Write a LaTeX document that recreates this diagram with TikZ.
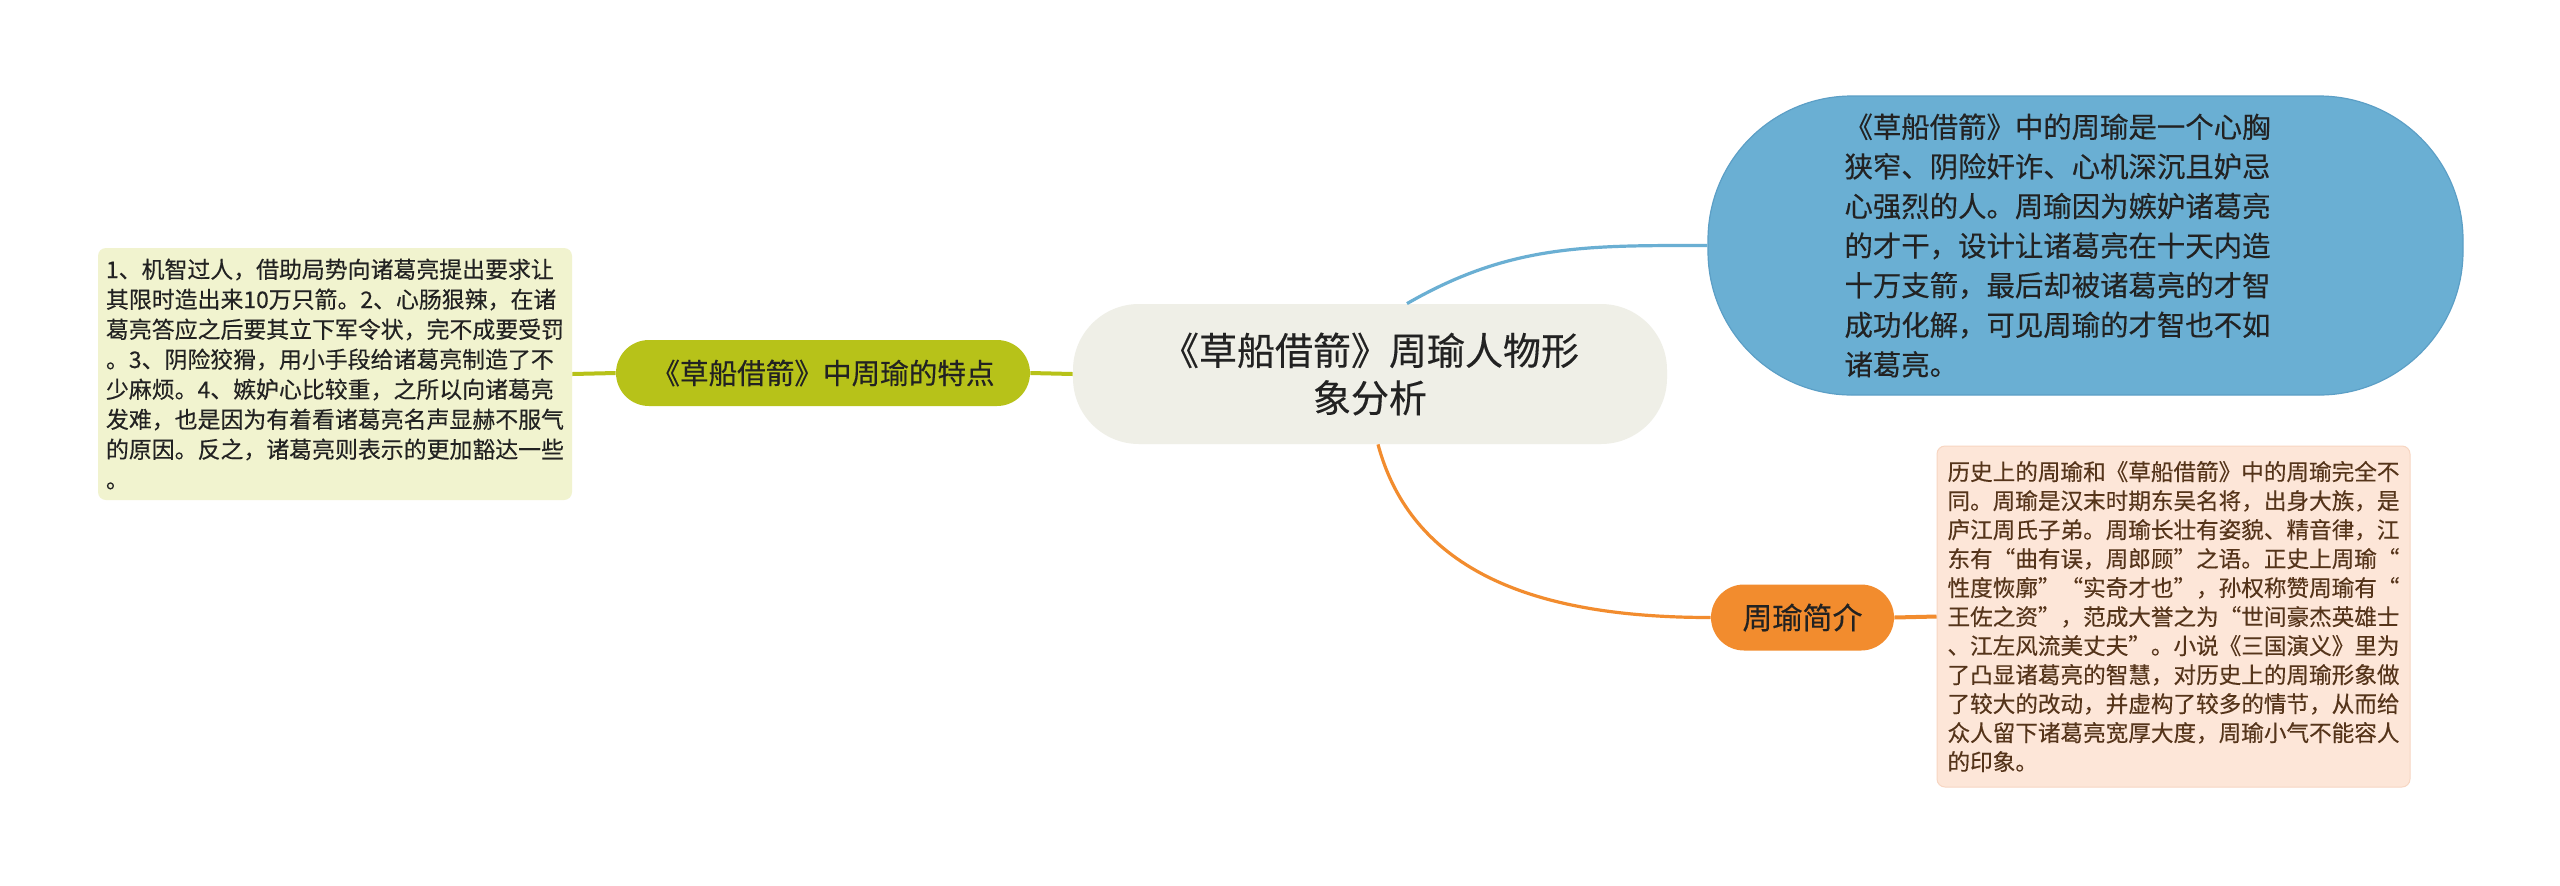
\documentclass[tikz,border=0pt]{standalone}
\usepackage{fontspec}
\setmainfont{Noto Sans CJK SC}[UprightFeatures={FakeBold=0.3}]
\definecolor{rootfill}{HTML}{EFEFE7}
\definecolor{olive}{HTML}{B7C219}
\definecolor{olivenote}{HTML}{F1F3CF}
\definecolor{bluebub}{HTML}{6AAFD3}
\definecolor{blueedge}{HTML}{5C9FC6}
\definecolor{orangepill}{HTML}{F28C2E}
\definecolor{orangenote}{HTML}{FDE6D8}
\definecolor{orangeedge}{HTML}{F7D6C2}
\definecolor{browntext}{HTML}{55341A}
\definecolor{darktext}{HTML}{222222}
\tikzset{
  rootbox/.style={fill=rootfill, rounded corners=33pt, minimum width=297pt,
    minimum height=70pt, align=center, text=darktext,
    font=\fontsize{19}{23.7}\selectfont},
  pill/.style={rounded corners=16.5pt, minimum height=33pt, inner sep=0pt,
    align=center, text=darktext},
  notebox/.style={rounded corners=4pt, inner sep=0pt, align=left},
  branch/.style={line width=2pt},
  twig/.style={line width=1.6pt}
}
\begin{document}
\begin{tikzpicture}[x=0.5pt, y=-0.5pt]
  \useasboundingbox[fill=white] (0,0) rectangle (2560,885);
  % centre
  \node[rootbox] (root) at (1370,374) {《草船借箭》周瑜人物形\\象分析};
  % left branch
  \node[pill, fill=olive, minimum width=207pt,
    font=\fontsize{14.3}{17}\selectfont] (trait) at (823,373) {《草船借箭》中周瑜的特点};
  \node[notebox, fill=olivenote, minimum width=237pt, minimum height=126pt,
    text=darktext, font=\fontsize{11.45}{15}\selectfont] (traitnote) at (335,374)
    {1、机智过人，借助局势向诸葛亮提出要求让\\
     其限时造出来10万只箭。2、心肠狠辣，在诸\\
     葛亮答应之后要其立下军令状，完不成要受罚\\
     。3、阴险狡猾，用小手段给诸葛亮制造了不\\
     少麻烦。4、嫉妒心比较重，之所以向诸葛亮\\
     发难，也是因为有着看诸葛亮名声显赫不服气\\
     的原因。反之，诸葛亮则表示的更加豁达一些\\
     。};
  % right upper branch
  \node[rounded corners=72pt, fill=bluebub, draw=blueedge, line width=0.6pt,
    minimum width=377.5pt, minimum height=149.5pt, align=left, text=darktext,
    font=\fontsize{14.2}{19.8}\selectfont] (portrait) at (2085.5,245.5)
    {《草船借箭》中的周瑜是一个心胸\hspace*{28pt}\\
     狭窄、阴险奸诈、心机深沉且妒忌\\
     心强烈的人。周瑜因为嫉妒诸葛亮\\
     的才干，设计让诸葛亮在十天内造\\
     十万支箭，最后却被诸葛亮的才智\\
     成功化解，可见周瑜的才智也不如\\
     诸葛亮。};
  % right lower branch
  \node[pill, fill=orangepill, minimum width=91.5pt,
    font=\fontsize{15}{18}\selectfont] (bio) at (1802.5,617.5) {周瑜简介};
  \node[notebox, fill=orangenote, draw=orangeedge, line width=0.5pt,
    minimum width=236.5pt, minimum height=170.5pt, text=browntext,
    font=\fontsize{11.3}{14.5}\selectfont] (bionote) at (2173.5,616.5)
    {历史上的周瑜和《草船借箭》中的周瑜完全不\\
     同。周瑜是汉末时期东吴名将，出身大族，是\\
     庐江周氏子弟。周瑜长壮有姿貌、精音律，江\\
     东有“曲有误，周郎顾”之语。正史上周瑜“\\
     性度恢廓”“实奇才也”，孙权称赞周瑜有“\\
     王佐之资"，范成大誉之为“世间豪杰英雄士\\
     、江左风流美丈夫”。小说《三国演义》里为\\
     了凸显诸葛亮的智慧，对历史上的周瑜形象做\\
     了较大的改动，并虚构了较多的情节，从而给\\
     众人留下诸葛亮宽厚大度，周瑜小气不能容人\\
     的印象。};
  % connectors
  \draw[branch, olive] (traitnote.east) -- (trait.west);
  \draw[branch, olive] (trait.east) -- (root.west);
  \draw[twig, bluebub] ([xshift=18.5pt]root.north) to[out=30, in=180] (portrait.west);
  \draw[twig, orangepill] ([xshift=4pt]root.south) to[out=-75, in=180] (bio.west);
  \draw[branch, orangepill] (bio.east) -- (bionote.west);
\end{tikzpicture}
\end{document}
